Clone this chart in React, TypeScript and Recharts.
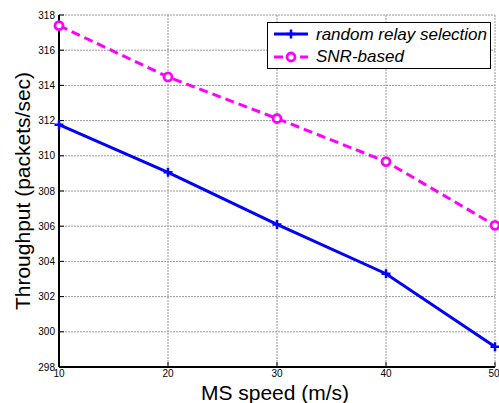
import { LineChart, Line, XAxis, YAxis, CartesianGrid, Legend, Label } from 'recharts';

// MS speed (m/s)
const speeds = [10, 20, 30, 40, 50];
// throughput, packets/sec
const randomRelay = [311.77, 309.06, 306.1, 303.3, 299.15];
const snrBased = [317.4, 314.48, 312.12, 309.67, 306.05];

const xTicks = [10, 20, 30, 40, 50];
const yTicks = [298, 300, 302, 304, 306, 308, 310, 312, 314, 316, 318];
const legendOrder = ['random', 'snr'];

const data = speeds.map((s, i) => ({ speed: s, random: randomRelay[i], snr: snrBased[i] }));

const FONT = '"Liberation Sans", Arial, Helvetica, sans-serif';
const BLUE = '#0000ff';
const MAGENTA = '#ff00ff';

const PlusDot = (props: any) => {
  const { cx, cy, index } = props;
  if (cx == null || cy == null) return null;
  return (
    <path
      key={`plus-${index}`}
      d={`M${cx - 4.5},${cy}H${cx + 4.5}M${cx},${cy - 4.5}V${cy + 4.5}`}
      stroke={BLUE}
      strokeWidth={2.5}
      fill="none"
    />
  );
};

const RingDot = (props: any) => {
  const { cx, cy, index } = props;
  if (cx == null || cy == null) return null;
  return <circle key={`ring-${index}`} cx={cx} cy={cy} r={4} stroke={MAGENTA} strokeWidth={2.8} fill="#fff" />;
};

const LegendBox = ({ payload }: any) => {
  const items = [...(payload || [])].sort(
    (a: any, b: any) => legendOrder.indexOf(a.dataKey) - legendOrder.indexOf(b.dataKey)
  );
  return (
    <div
      style={{
        boxSizing: 'border-box',
        width: 224,
        height: 47,
        border: '1.5px solid #000',
        background: '#fff',
        fontFamily: FONT,
        fontStyle: 'italic',
        fontSize: 17,
      }}
    >
      {items.map((p: any) => {
        const isSnr = p.dataKey === 'snr';
        return (
          <div key={p.dataKey} style={{ display: 'flex', alignItems: 'center', height: 22.5 }}>
            <svg width={44} height={20} style={{ marginLeft: 4 }}>
              <line
                x1={2}
                x2={36}
                y1={10}
                y2={10}
                stroke={p.color}
                strokeWidth={3}
                strokeDasharray={isSnr ? '9 4' : undefined}
              />
              {isSnr ? (
                <circle cx={19} cy={10} r={4} stroke={MAGENTA} strokeWidth={2.8} fill="#fff" />
              ) : (
                <path d="M14.5,10H23.5M19,5.5V14.5" stroke={BLUE} strokeWidth={2.5} />
              )}
            </svg>
            <span style={{ color: '#000', lineHeight: 1 }}>{p.value}</span>
          </div>
        );
      })}
    </div>
  );
};

const XTitle = ({ viewBox }: any) => (
  <text
    x={viewBox.x + viewBox.width / 2 - 2}
    y={viewBox.y + 33}
    textAnchor="middle"
    fontFamily={FONT}
    fontSize={21}
    fill="#000"
  >
    MS speed (m/s)
  </text>
);

const YTitle = ({ viewBox }: any) => {
  const x = 22;
  const y = viewBox.y + viewBox.height / 2;
  return (
    <text
      x={x}
      y={y}
      transform={`rotate(-90, ${x}, ${y})`}
      textAnchor="middle"
      dominantBaseline="central"
      fontFamily={FONT}
      fontSize={21}
      fill="#000"
    >
      Throughput (packets/sec)
    </text>
  );
};

const tickStyle = { fontSize: 10, fill: '#000', fontFamily: FONT };
const frame = { stroke: '#000', strokeWidth: 2 };

export default function App() {
  return (
    <div style={{ position: 'absolute', left: 0, top: 0, width: 499, height: 403, background: '#fff' }}>
      <LineChart width={499} height={403} data={data} margin={{ top: 15, right: 4, left: 0, bottom: 0 }}>
        <CartesianGrid stroke="#999" strokeDasharray="2 1" />
        <XAxis
          dataKey="speed"
          type="number"
          domain={[10, 50]}
          ticks={xTicks}
          height={36}
          tick={tickStyle}
          tickSize={-5}
          tickMargin={8}
          axisLine={frame}
          tickLine={{ stroke: '#000' }}
        >
          <Label content={XTitle} />
        </XAxis>
        <XAxis
          xAxisId="top"
          orientation="top"
          dataKey="speed"
          type="number"
          domain={[10, 50]}
          ticks={xTicks}
          height={0}
          tickSize={-5}
          tickFormatter={() => ''}
          axisLine={frame}
          tickLine={{ stroke: '#000' }}
        />
        <YAxis
          type="number"
          domain={[298, 318]}
          ticks={yTicks}
          width={59}
          tick={tickStyle}
          tickSize={-5}
          tickMargin={9}
          axisLine={frame}
          tickLine={{ stroke: '#000' }}
        >
          <Label content={YTitle} />
        </YAxis>
        <YAxis
          yAxisId="right"
          orientation="right"
          type="number"
          domain={[298, 318]}
          ticks={yTicks}
          width={0}
          tickSize={-5}
          tickFormatter={() => ''}
          axisLine={frame}
          tickLine={{ stroke: '#000' }}
        />
        <Legend
          layout="vertical"
          align="center"
          verticalAlign="middle"
          content={LegendBox}
          wrapperStyle={{ position: 'absolute', left: 267, top: 22, width: 224 }}
        />
        <Line
          dataKey="random"
          name="random relay selection"
          stroke={BLUE}
          strokeWidth={3}
          dot={PlusDot}
          isAnimationActive={false}
        />
        <Line
          dataKey="snr"
          name="SNR-based"
          stroke={MAGENTA}
          strokeWidth={3}
          strokeDasharray="9 5"
          dot={RingDot}
          isAnimationActive={false}
        />
      </LineChart>
    </div>
  );
}
